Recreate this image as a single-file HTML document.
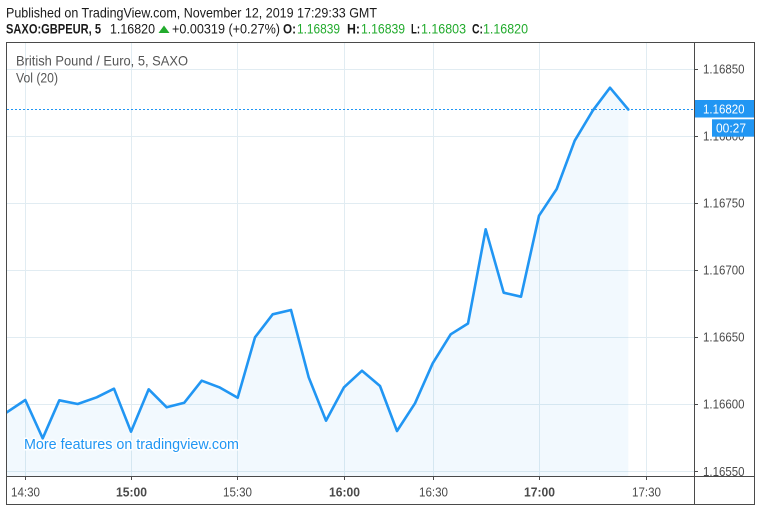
<!DOCTYPE html>
<html><head><meta charset="utf-8"><style>
html,body{margin:0;padding:0;background:#fff;}
svg{display:block;font-family:"Liberation Sans",Arial,sans-serif;}
</style></head><body>
<svg width="761" height="511" viewBox="0 0 761 511" xmlns="http://www.w3.org/2000/svg">
<rect x="0" y="0" width="761" height="511" fill="#fff"/>
<!-- header -->
<text x="6" y="17.5" font-size="14" fill="#1a1a1a" textLength="371" lengthAdjust="spacingAndGlyphs">Published on TradingView.com, November 12, 2019 17:29:33 GMT</text>
<g font-size="14" fill="#1a1a1a">
<text x="6" y="33.5" font-weight="bold" textLength="95" lengthAdjust="spacingAndGlyphs">SAXO:GBPEUR, 5</text>
<text x="110" y="33.5" textLength="45" lengthAdjust="spacingAndGlyphs">1.16820</text>
<polygon points="158.5,33 169.5,33 164,25.5" fill="#22ab2d"/>
<text x="172" y="33.5" textLength="108" lengthAdjust="spacingAndGlyphs">+0.00319 (+0.27%)</text>
<text x="283" y="33.5" font-weight="bold" textLength="13" lengthAdjust="spacingAndGlyphs">O:</text>
<text x="297" y="33.5" fill="#22ab2d" textLength="43" lengthAdjust="spacingAndGlyphs">1.16839</text>
<text x="347" y="33.5" font-weight="bold" textLength="13" lengthAdjust="spacingAndGlyphs">H:</text>
<text x="361" y="33.5" fill="#22ab2d" textLength="44" lengthAdjust="spacingAndGlyphs">1.16839</text>
<text x="411" y="33.5" font-weight="bold" textLength="9" lengthAdjust="spacingAndGlyphs">L:</text>
<text x="421" y="33.5" fill="#22ab2d" textLength="45" lengthAdjust="spacingAndGlyphs">1.16803</text>
<text x="472" y="33.5" font-weight="bold" textLength="11" lengthAdjust="spacingAndGlyphs">C:</text>
<text x="483" y="33.5" fill="#22ab2d" textLength="45" lengthAdjust="spacingAndGlyphs">1.16820</text>
</g>
<defs>
<clipPath id="pane"><rect x="7" y="43" width="687" height="433"/></clipPath>
<clipPath id="paxis"><rect x="695" y="43" width="59" height="433"/></clipPath>
</defs>
<!-- grid -->
<g stroke="#e1ecf2" stroke-width="1" clip-path="url(#pane)">
<line x1="7" x2="694" y1="69.5" y2="69.5"/>
<line x1="7" x2="694" y1="136.5" y2="136.5"/>
<line x1="7" x2="694" y1="203.5" y2="203.5"/>
<line x1="7" x2="694" y1="270.5" y2="270.5"/>
<line x1="7" x2="694" y1="337.5" y2="337.5"/>
<line x1="7" x2="694" y1="404.5" y2="404.5"/>
<line x1="7" x2="694" y1="471.5" y2="471.5"/>
<line y1="43" y2="476" x1="25.5" x2="25.5"/>
<line y1="43" y2="476" x1="131.5" x2="131.5"/>
<line y1="43" y2="476" x1="237.5" x2="237.5"/>
<line y1="43" y2="476" x1="344.5" x2="344.5"/>
<line y1="43" y2="476" x1="433.5" x2="433.5"/>
<line y1="43" y2="476" x1="539.5" x2="539.5"/>
<line y1="43" y2="476" x1="646.5" x2="646.5"/>
</g>
<g clip-path="url(#pane)">
<polygon fill="#2196f3" fill-opacity="0.06" points="7,412.5 25.3,400 42.7,438.3 59.3,400.3 77.7,404 96.7,397.3 114,388.7 131,431.7 148.7,389.3 166.7,407.3 184.3,402.7 201.7,380.7 219.3,387.3 237.7,397.7 255,337.3 272.7,314.3 291,310 308.7,377.3 326,420.7 344,387.3 362,370.7 380,386 397,431 415,403.3 432.7,363.3 450.7,334.3 468,323.5 485.7,229.3 503.7,292.7 521,296.7 539,215.7 556.7,189 574.7,140.7 592.7,110.7 610,87.7 628.3,109.5 628.3,476 7,476"/>
<line x1="7" x2="694" y1="109.5" y2="109.5" stroke="#2196f3" stroke-width="1" stroke-dasharray="2,2"/>
<text x="24" y="449" font-size="15" fill="#2196f3" stroke="#fff" stroke-width="3" paint-order="stroke" stroke-linejoin="round" textLength="215" lengthAdjust="spacingAndGlyphs">More features on tradingview.com</text>
<polyline fill="none" stroke="#2196f3" stroke-width="2.6" stroke-linejoin="round" stroke-linecap="round" points="5,413.5 25.3,400 42.7,438.3 59.3,400.3 77.7,404 96.7,397.3 114,388.7 131,431.7 148.7,389.3 166.7,407.3 184.3,402.7 201.7,380.7 219.3,387.3 237.7,397.7 255,337.3 272.7,314.3 291,310 308.7,377.3 326,420.7 344,387.3 362,370.7 380,386 397,431 415,403.3 432.7,363.3 450.7,334.3 468,323.5 485.7,229.3 503.7,292.7 521,296.7 539,215.7 556.7,189 574.7,140.7 592.7,110.7 610,87.7 628.3,109.5"/>
<text x="16" y="65.5" font-size="14" fill="#555" textLength="172" lengthAdjust="spacingAndGlyphs">British Pound / Euro, 5, SAXO</text>
<text x="16" y="82.5" font-size="14" fill="#555" textLength="42" lengthAdjust="spacingAndGlyphs">Vol (20)</text>
</g>
<!-- price axis -->
<g clip-path="url(#paxis)">
<g stroke="#4a4a4a" stroke-width="1">
<line x1="694" x2="698" y1="69.5" y2="69.5"/>
<line x1="694" x2="698" y1="136.5" y2="136.5"/>
<line x1="694" x2="698" y1="203.5" y2="203.5"/>
<line x1="694" x2="698" y1="270.5" y2="270.5"/>
<line x1="694" x2="698" y1="337.5" y2="337.5"/>
<line x1="694" x2="698" y1="404.5" y2="404.5"/>
<line x1="694" x2="698" y1="471.5" y2="471.5"/>
</g>
<g font-size="13" fill="#4a4a4a">
<text x="703" y="73.5" textLength="41.5" lengthAdjust="spacingAndGlyphs">1.16850</text>
<text x="703" y="140.5" textLength="41.5" lengthAdjust="spacingAndGlyphs">1.16800</text>
<text x="703" y="207.5" textLength="41.5" lengthAdjust="spacingAndGlyphs">1.16750</text>
<text x="703" y="274.5" textLength="41.5" lengthAdjust="spacingAndGlyphs">1.16700</text>
<text x="703" y="341.5" textLength="41.5" lengthAdjust="spacingAndGlyphs">1.16650</text>
<text x="703" y="408.5" textLength="41.5" lengthAdjust="spacingAndGlyphs">1.16600</text>
<text x="703" y="476" textLength="41.5" lengthAdjust="spacingAndGlyphs">1.16550</text>
</g>
<rect x="695" y="100" width="59" height="17.5" fill="#2196f3"/>
<text x="703" y="113.5" font-size="13" fill="#fff" textLength="41.5" lengthAdjust="spacingAndGlyphs">1.16820</text>
<rect x="712" y="119.3" width="42" height="17.4" fill="#2196f3"/>
<text x="716" y="132.7" font-size="13" fill="#fff" textLength="30" lengthAdjust="spacingAndGlyphs">00:27</text>
</g>
<!-- time axis -->
<g stroke="#4a4a4a" stroke-width="1">
<line y1="476" y2="480" x1="25.5" x2="25.5"/>
<line y1="476" y2="480" x1="131.5" x2="131.5"/>
<line y1="476" y2="480" x1="237.5" x2="237.5"/>
<line y1="476" y2="480" x1="344.5" x2="344.5"/>
<line y1="476" y2="480" x1="433.5" x2="433.5"/>
<line y1="476" y2="480" x1="539.5" x2="539.5"/>
<line y1="476" y2="480" x1="646.5" x2="646.5"/>
</g>
<g font-size="13" fill="#4a4a4a" text-anchor="middle">
<text x="25.5" y="496.5" textLength="29" lengthAdjust="spacingAndGlyphs">14:30</text>
<text x="131.5" y="496.5" font-weight="bold" textLength="31" lengthAdjust="spacingAndGlyphs">15:00</text>
<text x="237.5" y="496.5" textLength="29" lengthAdjust="spacingAndGlyphs">15:30</text>
<text x="344.5" y="496.5" font-weight="bold" textLength="31" lengthAdjust="spacingAndGlyphs">16:00</text>
<text x="433.5" y="496.5" textLength="29" lengthAdjust="spacingAndGlyphs">16:30</text>
<text x="539.5" y="496.5" font-weight="bold" textLength="31" lengthAdjust="spacingAndGlyphs">17:00</text>
<text x="646.5" y="496.5" textLength="29" lengthAdjust="spacingAndGlyphs">17:30</text>
</g>
<!-- borders -->
<g stroke="#4a4a4a" stroke-width="1" fill="none">
<rect x="6.5" y="42.5" width="748" height="462"/>
<line x1="694.5" x2="694.5" y1="42.5" y2="504.5"/>
<line x1="6.5" x2="754.5" y1="476.5" y2="476.5"/>
</g>
</svg>
</body></html>
